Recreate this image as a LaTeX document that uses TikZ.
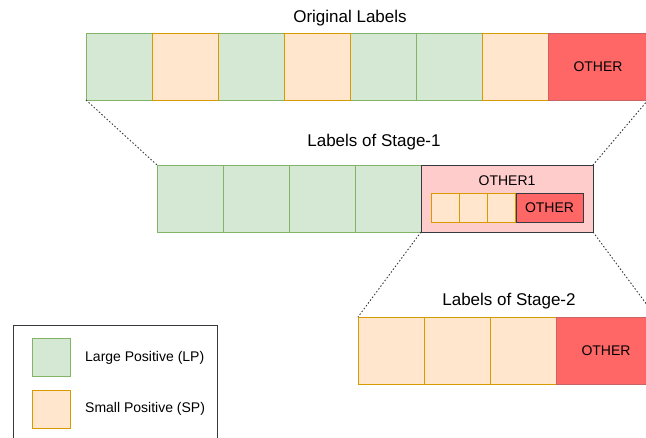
\documentclass[tikz,border=0pt]{standalone}
\usepackage{fontspec}
\setmainfont{Liberation Sans}
\usetikzlibrary{positioning}

\definecolor{lpfill}{HTML}{D5E8D4}
\definecolor{lpline}{HTML}{82B366}
\definecolor{spfill}{HTML}{FFE6CC}
\definecolor{spline}{HTML}{D79B00}
\definecolor{othfill}{HTML}{FF6666}
\definecolor{othline}{HTML}{C86464}
\definecolor{onefill}{HTML}{FFCCCC}
\definecolor{darkline}{HTML}{36393D}

\tikzset{
    cell/.style={inner sep=0pt, outer sep=0pt, line width=1pt,
        minimum width=66pt, minimum height=67pt, anchor=north west},
    lp/.style={cell, draw=lpline, fill=lpfill},
    sp/.style={cell, draw=spline, fill=spfill},
    oth/.style={cell, draw=othline, fill=othfill, minimum width=100pt,
        font=\fontsize{14}{17}\selectfont},
    small/.style={minimum width=28.3pt, minimum height=29pt},
    zoomline/.style={draw=darkline, line width=0.9pt, dash pattern=on 1.5pt off 2pt},
    ttl/.style={inner sep=0pt, font=\fontsize{17}{20}\selectfont},
    lbl/.style={inner sep=0pt, font=\fontsize{14}{17}\selectfont},
}

\begin{document}
\begin{tikzpicture}[x=1pt, y=-1pt]
    \useasboundingbox (0,0) rectangle (646,437);
    \clip (0,0) rectangle (646,437);

    % Original labels
    \node[ttl] (t0) at (350,18) {Original Labels};
    \foreach \i in {1,3,5,6}
        \node[lp] (o\i) at ({86+66*(\i-1)},33) {};
    \foreach \i in {2,4,7}
        \node[sp] (o\i) at ({86+66*(\i-1)},33) {};
    \node[oth] (o8) at (548,33) {OTHER};

    % Stage-1
    \node[ttl] (t1) at (374,142) {Labels of Stage-1};
    \foreach \i in {1,...,4}
        \node[lp] (a\i) at ({157+66*(\i-1)},165) {};
    \node[cell, draw=darkline, fill=onefill, minimum width=172pt] (a5) at (421,165) {};
    \node[lbl] (a5t) at (507,181) {OTHER1};
    \foreach \i in {1,2,3}
        \node[sp, small] (s\i) at ({431+28.3*(\i-1)},193) {};
    \node[oth, small, draw=darkline, minimum width=67pt] (s4) at (516,193) {OTHER};

    % Stage-2
    \node[ttl] (t2) at (509,301) {Labels of Stage-2};
    \foreach \i in {1,2,3}
        \node[sp] (b\i) at ({358+66*(\i-1)},317) {};
    \node[oth] (b4) at (556,317) {OTHER};

    % zoom lines
    \draw[zoomline] (o1.south west) -- (a1.north west);
    \draw[zoomline] (o8.south east) -- (a5.north east);
    \draw[zoomline] (a5.south west) -- (b1.north west);
    \draw[zoomline] (a5.south east) -- (b4.north east);

    % legend
    \node[cell, draw=darkline, fill=white, minimum width=204pt, minimum height=140pt] (leg) at (13,325) {};
    \node[lp, minimum width=38pt, minimum height=38pt] (k1) at (32,338) {};
    \node[lbl, anchor=west] (k1t) at (85,358) {Large Positive (LP)};
    \node[sp, minimum width=38pt, minimum height=38pt] (k2) at (32,390) {};
    \node[lbl, anchor=west] (k2t) at (85,409) {Small Positive (SP)};
\end{tikzpicture}
\end{document}
